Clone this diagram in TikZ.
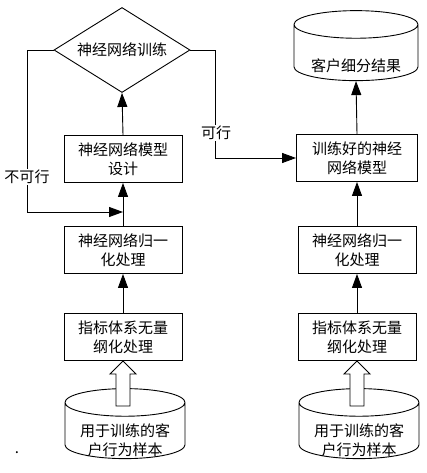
\documentclass[tikz,border=0pt]{standalone}
\usepackage{fontspec}
\newfontfamily\cjk{Noto Sans CJK SC}
\usetikzlibrary{shapes.geometric, arrows.meta, positioning, calc}

\tikzset{
	cjktext/.style={font=\cjk\fontsize{15}{19}\selectfont, align=center},
	procbox/.style={cjktext, draw, line width=0.9pt, minimum width=118pt, minimum height=47pt, inner sep=1pt},
	dbcyl/.style={cjktext, draw, line width=0.9pt, cylinder, shape border rotate=90, aspect=0.3, minimum width=120pt, minimum height=70pt, inner sep=1pt},
	decide/.style={cjktext, draw, line width=0.9pt, diamond, aspect=1.6, minimum width=136pt, minimum height=85pt, inner sep=0pt},
	flow/.style={-{Triangle[length=14pt,width=10pt]}, line width=0.9pt},
	fatarrow/.style={line width=0.9pt, fill=white},
	lbl/.style={cjktext, fill=white, inner sep=1pt}
}

% text of a cylinder sits low, in its body
\newcommand{\lowtext}[2]{\raisebox{-#1}[0pt][0pt]{\begin{tabular}{@{}c@{}}#2\end{tabular}}}

\begin{document}
\begin{tikzpicture}[x=1pt, y=1pt]
	\useasboundingbox (0,0) rectangle (426,-473);
	
	%// the two columns share the lower three steps
	\foreach \cx/\nm in {123/L, 357/R}
	{
		\node [dbcyl] (sample\nm) at (\cx+2,-432) {\lowtext{14pt}{用于训练的客\\户行为样本}};
		\node [procbox] (dim\nm) at (\cx,-337) {指标体系无量\\纲化处理};
		\node [procbox] (norm\nm) at (\cx,-250) {神经网络归一\\化处理};
		\draw [flow] (dim\nm.north) -- (norm\nm.south);
		\draw [fatarrow] (dim\nm.south) -- ++(13,-13) -- ++(-6,0) -- ++(0,-32) -- ++(-14,0) -- ++(0,32) -- ++(-6,0) -- cycle;
	}
	
	%// left column: training
	\node [procbox] (design) at (123,-159) {神经网络模型\\设计};
	\node [decide] (train) at (122,-50) {神经网络训练};
	\draw [flow] (normL.north) -- (design.south);
	\draw [flow] (design.north) -- (train.south);
	
	\coordinate (nogo) at (27,-212);
	\coordinate (fb) at (123,-212);
	\draw [flow] (train.west) -| (nogo) -- (fb);
	\node [lbl] (nolbl) at (27,-177) {不可行};
	
	%// right column: result
	\node [procbox, minimum width=121pt] (trained) at (357,-158) {训练好的神经\\网络模型};
	\node [dbcyl, minimum width=124pt] (result) at (356,-54) {\lowtext{17pt}{客户细分结果}};
	\draw [flow] (normR.north) -- (trained.south);
	\draw [flow] (trained.north) -- (result.south);
	
	\coordinate (go) at (215,-158);
	\draw [flow] (train.east) -| (go) -- (trained.west);
	\node [lbl] (golbl) at (216,-133) {可行};
	
	\node [cjktext] (dot) at (17,-453) {.};
\end{tikzpicture}
\end{document}
